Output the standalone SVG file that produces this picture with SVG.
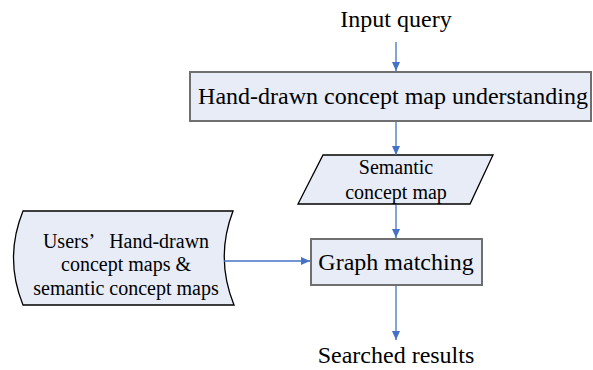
<svg xmlns="http://www.w3.org/2000/svg" width="593" height="370" viewBox="0 0 593 370">
<style>
text{font-family:"Liberation Serif","Times New Roman",serif;fill:#000;text-anchor:middle}
.big{font-size:24px}
.sm{font-size:20px}
.box{fill:#E7ECF7;stroke:#6F6F6F;stroke-width:2}
.shape{fill:#E7ECF7;stroke:#000;stroke-width:1.3}
.con{stroke:#4472C4;stroke-width:1.3;fill:none;marker-end:url(#ah)}
</style>
<defs>
<marker id="ah" markerWidth="10" markerHeight="10" refX="9" refY="5" orient="auto" markerUnits="userSpaceOnUse">
<path d="M0,1 L9,5 L0,9 Z" fill="#4472C4"/>
</marker>
</defs>
<g id="input"><text class="big" x="396" y="27">Input query</text></g>
<g id="understanding">
<rect class="box" x="190" y="72" width="401" height="49"/>
<text class="big" x="393" y="104">Hand-drawn concept map understanding</text>
</g>
<g id="semantic">
<polygon class="shape" points="323,155 493,155 470,204 298,204"/>
<text class="sm" x="396" y="174">Semantic</text>
<text class="sm" x="396" y="199">concept map</text>
</g>
<g id="stored">
<path class="shape" d="M23,211 L233,211 Q215,258 234,305 L23,305 Q4,258 23,211 Z"/>
<text class="sm" x="126" y="248">Users’<tspan dx="14">Hand-drawn</tspan></text>
<text class="sm" x="126" y="271">concept maps &amp;</text>
<text class="sm" x="126" y="295">semantic concept maps</text>
</g>
<g id="matching">
<rect class="box" x="311" y="239" width="171" height="46"/>
<text class="big" x="396" y="270">Graph matching</text>
</g>
<g id="results"><text class="big" x="396" y="363">Searched results</text></g>
<g id="connectors">
<line class="con" x1="396" y1="42" x2="396" y2="71"/>
<line class="con" x1="396" y1="122" x2="396" y2="155"/>
<line class="con" x1="396" y1="205" x2="396" y2="238"/>
<line class="con" x1="224" y1="261" x2="310" y2="261"/>
<line class="con" x1="396" y1="286" x2="396" y2="340"/>
</g>
</svg>
